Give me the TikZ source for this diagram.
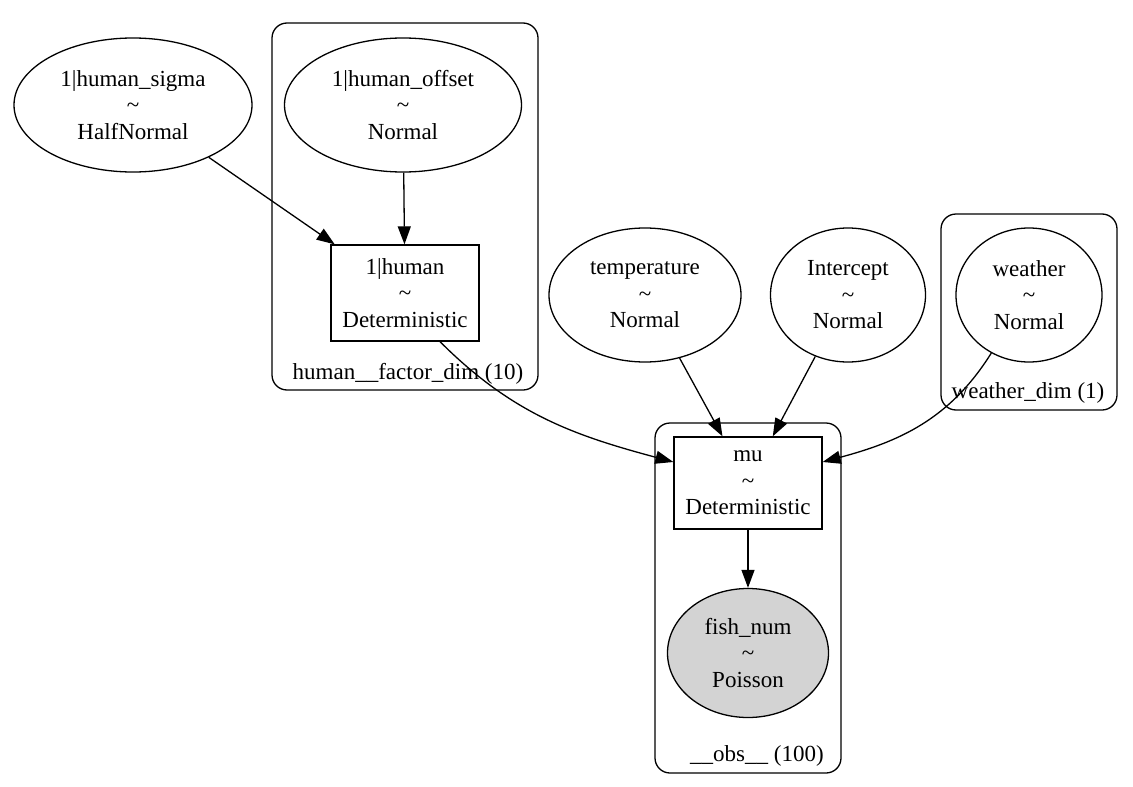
\documentclass[tikz,border=0pt]{standalone}
\usepackage{fontspec}
\setmainfont{Liberation Serif}
\usetikzlibrary{arrows.meta,shapes.geometric}
\definecolor{gObs} {HTML}{D3D3D3}
\definecolor{gEdge}{HTML}{000000}

\begin{document}
\begin{tikzpicture}[
  x=1pt, y=-1pt, font=\fontsize{23}{26.5}\selectfont,
  rv/.style={ellipse, draw=gEdge, line width=1.3pt, align=center, inner sep=0pt},
  det/.style={rectangle, draw=gEdge, line width=1.3pt, align=center, inner sep=0pt,
              minimum width=148pt, minimum height=93pt},
  plate/.style={rectangle, draw=gEdge, rounded corners=15pt, line width=1.3pt, inner sep=0pt},
  plbl/.style={inner sep=0pt},
  ar/.style={-{Triangle[length=18pt,width=13pt]}, draw=gEdge, line width=1.3pt},
]
\useasboundingbox (0,0) rectangle (1133,787);

% ---------------------------------------------------------------- plates
\node[plate, minimum width=266pt, minimum height=367pt] at (405,206.5) (pH) {};
\node[plbl] at (408,374) (pHl) {human\_\_factor\_dim (10)};
\node[plate, minimum width=176pt, minimum height=196pt] at (1029,312) (pW) {};
\node[plbl] at (1028,393) (pWl) {weather\_dim (1)};
\node[plate, minimum width=186pt, minimum height=350pt] at (748,598) (pO) {};
\node[plbl] at (757,756) (pOl) {\_\_obs\_\_ (100)};

% ---------------------------------------------------------------- variables
\node[rv, minimum width=238pt, minimum height=134pt] at (133,105) (sig)
  {1|human\_sigma\\\textasciitilde\\HalfNormal};
\node[rv, minimum width=237pt, minimum height=134pt] at (403,105) (off)
  {1|human\_offset\\\textasciitilde\\Normal};
\node[det, minimum height=96pt] at (405,293) (hum)
  {1|human\\\textasciitilde\\Deterministic};
\node[rv, minimum width=192pt, minimum height=134pt] at (645,295) (temp)
  {temperature\\\textasciitilde\\Normal};
\node[rv, minimum width=155pt, minimum height=134pt] at (848,295) (icpt)
  {Intercept\\\textasciitilde\\Normal};
\node[rv, minimum width=146pt, minimum height=134pt] at (1029,295) (wthr)
  {weather\\\textasciitilde\\Normal};
\node[det, minimum height=92pt] at (748,483) (mu)
  {mu\\\textasciitilde\\Deterministic};
\node[rv, fill=gObs, minimum width=161pt, minimum height=129pt] at (748,653) (fish)
  {fish\_num\\\textasciitilde\\Poisson};

% ---------------------------------------------------------------- edges
\draw[ar] (sig) -- (hum);
\draw[ar] (off) -- (hum);
\draw[ar] (temp) -- (mu);
\draw[ar] (icpt) -- (mu);
\draw[ar] ([xshift=35pt]hum.south) to[out=-45,in=165] ([yshift=21pt]mu.west);
\draw[ar] (wthr.237) to[out=-122,in=15] ([yshift=21pt]mu.east);
\draw[ar] (mu) -- (fish);

\end{tikzpicture}
\end{document}
